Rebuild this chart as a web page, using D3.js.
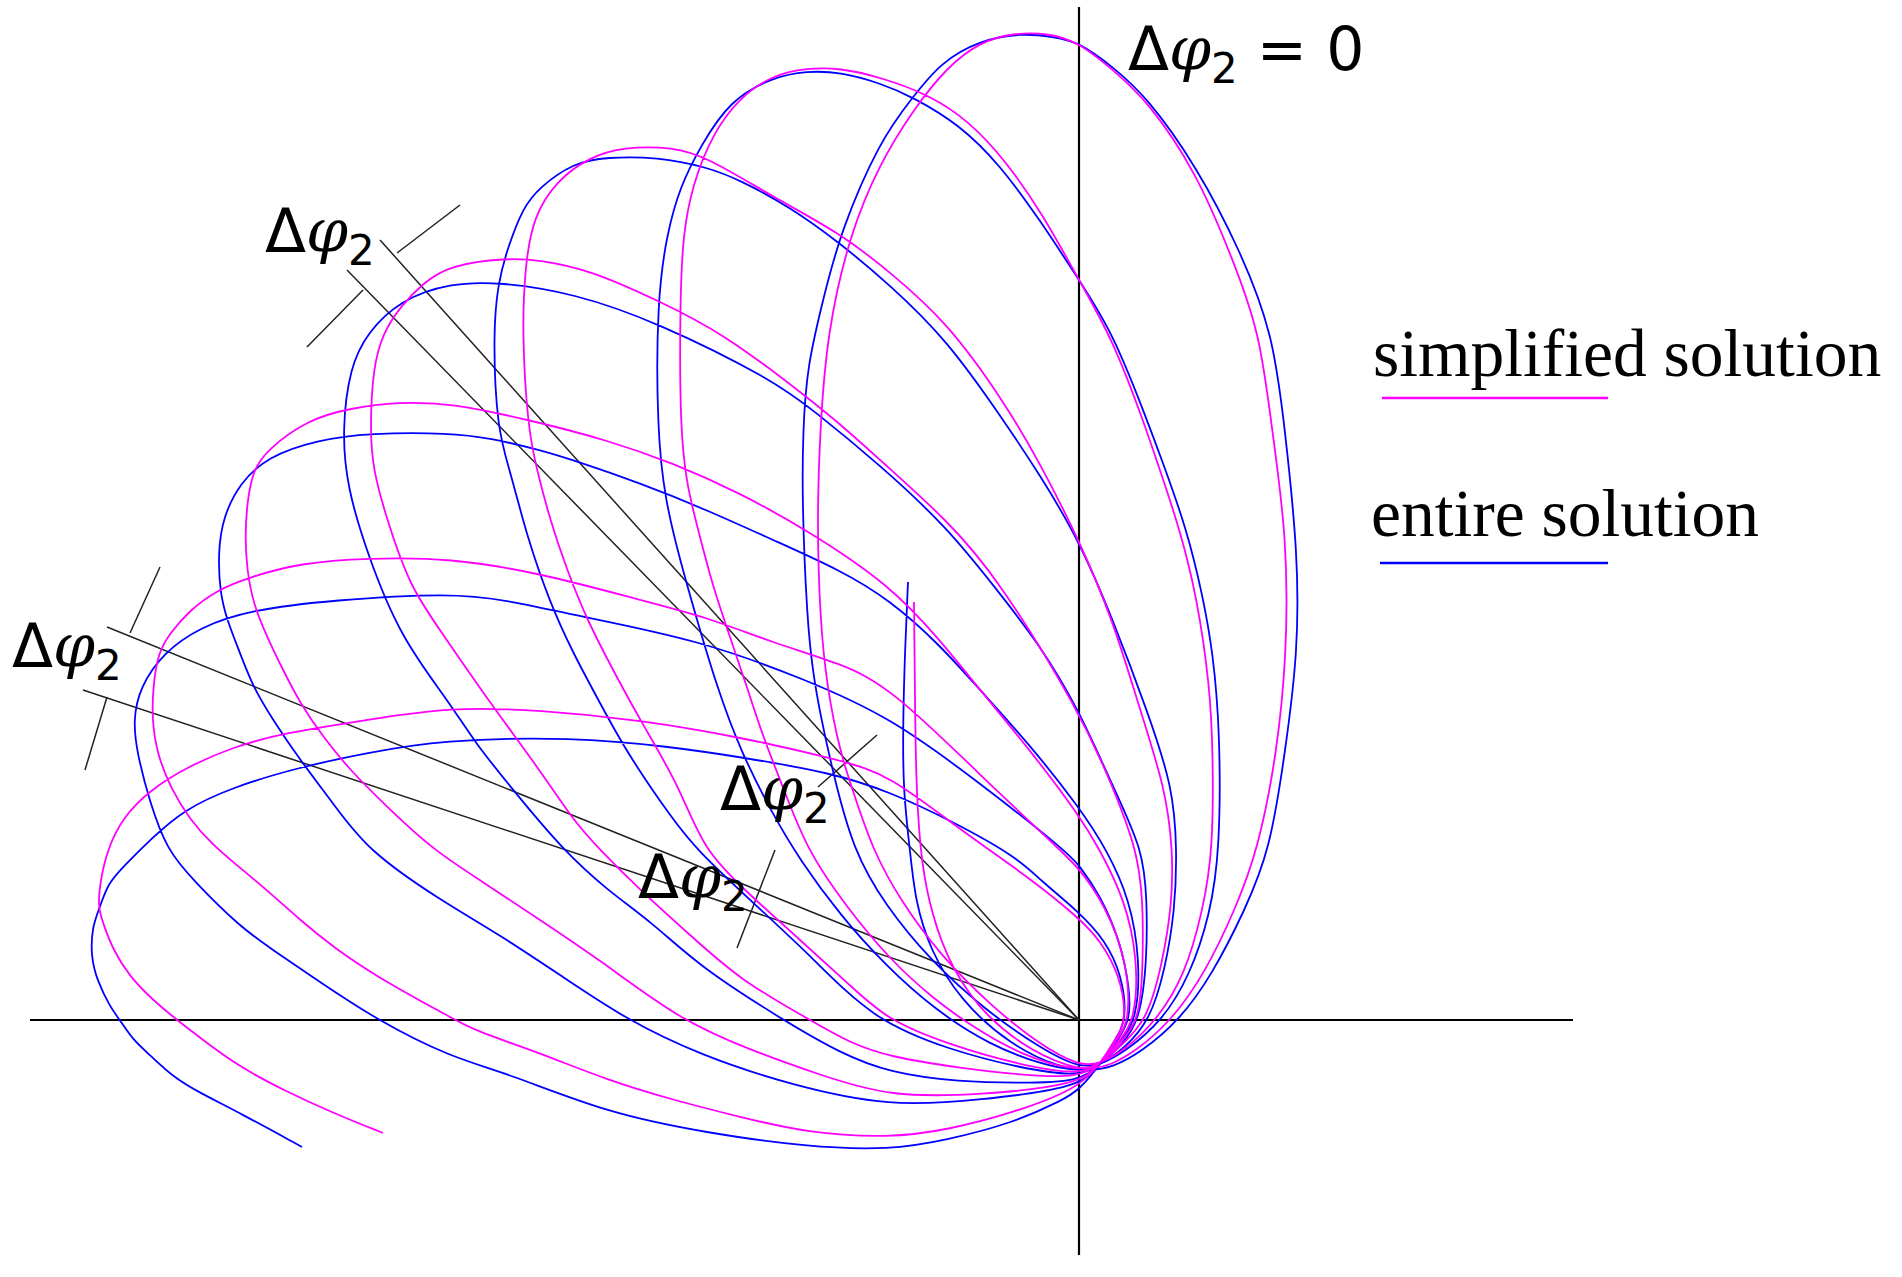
<!DOCTYPE html>
<html>
<head>
<meta charset="utf-8">
<script src="https://cdn.jsdelivr.net/npm/d3@7"></script>
<style>
  html, body { margin: 0; padding: 0; background: #fff; }
  svg { display: block; }
</style>
</head>
<body>
<svg id="chart" width="1902" height="1277"></svg>
<script>
// plot units: origin at the axis crossing, x to the right, y up

// entire solution (blue)
const blueTail = [[-171,438],[-174,370],[-176,300],[-176,230],[-169,170],[-164,120],[-149,70],[-119,20],[-69,-25],[-19,-48]];
const blueLobes = [
  [[11,-51],[34,-47],[61,-33],[101,0],[134,47],[166,110],[191,170],[206,267],[219,367],[219,467],[206,590],[194,687],[161,770],[118,853],[68,923],[34,953],[0,978],[-26,983],[-56,987],[-99,980],[-139,957],[-166,923],[-199,880],[-239,787],[-256,720],[-272,653],[-276,590],[-277,520],[-272,400],[-266,347],[-259,307],[-246,247],[-226,170],[-194,115],[-149,60],[-94,10],[-39,-28],[0,-48]],
  [[21,-45],[46,-32],[84,0],[111,45],[131,105],[141,170],[141,290],[134,367],[124,423],[108,490],[84,557],[68,600],[34,687],[0,740],[-39,800],[-79,855],[-119,895],[-166,923],[-199,937],[-239,948],[-272,949],[-306,943],[-349,920],[-379,873],[-399,833],[-412,787],[-422,720],[-422,590],[-414,520],[-399,460],[-382,400],[-362,333],[-339,270],[-306,205],[-279,160],[-239,105],[-194,55],[-144,10],[-89,-25],[-39,-44],[0,-52]],
  [[21,-45],[46,-28],[71,0],[86,50],[96,110],[98,170],[94,233],[68,310],[34,400],[0,480],[-39,545],[-79,605],[-132,680],[-189,735],[-239,777],[-289,813],[-339,840],[-372,853],[-422,863],[-472,863],[-506,857],[-539,833],[-556,813],[-572,770],[-581,737],[-586,687],[-582,590],[-569,550],[-552,483],[-529,417],[-506,367],[-479,317],[-452,267],[-406,200],[-382,170],[-329,120],[-269,65],[-206,0],[-129,-30],[-59,-48],[0,-57]],
  [[21,-45],[43,-25],[61,0],[68,60],[68,120],[64,170],[34,233],[0,310],[-39,375],[-82,430],[-132,493],[-199,555],[-266,610],[-306,640],[-422,698],[-506,727],[-579,738],[-629,737],[-679,720],[-712,687],[-729,653],[-737,590],[-732,533],[-712,467],[-679,383],[-629,317],[-606,280],[-566,230],[-516,170],[-472,130],[-426,97],[-379,53],[-296,0],[-239,-33],[-189,-53],[-119,-62],[-59,-63],[0,-62]],
  [[21,-45],[41,-22],[58,0],[61,60],[51,120],[28,170],[0,213],[-49,275],[-99,330],[-139,375],[-189,420],[-239,450],[-306,480],[-372,510],[-439,537],[-506,560],[-539,570],[-589,582],[-629,587],[-709,587],[-762,580],[-812,563],[-839,537],[-856,503],[-861,467],[-859,427],[-852,400],[-839,367],[-826,333],[-806,300],[-779,260],[-746,217],[-712,170],[-639,120],[-579,85],[-519,45],[-452,0],[-379,-35],[-289,-65],[-189,-87],[-99,-80],[0,-68]],
  [[21,-45],[39,-20],[51,0],[51,30],[41,80],[21,125],[0,155],[-12,168],[-99,237],[-189,303],[-272,340],[-379,380],[-506,405],[-572,420],[-629,427],[-746,420],[-829,410],[-879,393],[-916,367],[-939,333],[-946,300],[-942,267],[-929,217],[-912,170],[-886,140],[-839,93],[-806,70],[-762,40],[-702,0],[-629,-37],[-572,-53],[-472,-93],[-372,-113],[-272,-127],[-189,-130],[-132,-120],[-66,-103],[-16,-80],[0,-70]],
  [[21,-45],[36,-20],[48,0],[43,45],[26,80],[0,108],[-39,140],[-62,163],[-129,200],[-189,228],[-246,247],[-339,263],[-406,273],[-506,283],[-639,280],[-712,267],[-779,253],[-846,233],[-896,210],[-929,180],[-954,155],[-971,137],[-979,113],[-987,93],[-988,63],[-982,40],[-969,13],[-959,0],[-946,-20],[-929,-35],[-906,-57],[-879,-73],[-839,-93],[-777,-127]]
];

// simplified solution (magenta)
const magentaTail = [[-165,418],[-164,320],[-163,240],[-159,170],[-151,120],[-134,65],[-104,15],[-59,-25],[-9,-48]];
const magentaLobes = [
  [[16,-49],[31,-45],[56,-32],[93,0],[126,47],[156,110],[179,170],[198,267],[208,367],[208,483],[193,590],[181,687],[154,760],[118,847],[68,920],[34,950],[0,978],[-32,987],[-66,987],[-99,978],[-132,953],[-166,910],[-199,857],[-229,787],[-252,687],[-259,590],[-262,500],[-259,400],[-252,333],[-239,267],[-222,217],[-206,170],[-179,120],[-139,65],[-89,15],[-39,-25],[0,-46]],
  [[21,-44],[46,-30],[78,0],[106,45],[124,110],[134,170],[134,267],[131,333],[118,423],[101,490],[81,550],[64,600],[34,680],[0,740],[-37,807],[-74,860],[-109,898],[-149,925],[-199,943],[-239,952],[-272,952],[-306,945],[-339,923],[-366,887],[-386,837],[-396,787],[-399,720],[-399,590],[-392,533],[-379,483],[-366,433],[-349,383],[-332,333],[-316,283],[-296,233],[-272,170],[-234,115],[-189,60],[-144,20],[-109,-5],[-59,-35],[0,-52]],
  [[21,-44],[43,-25],[68,0],[83,55],[93,115],[94,170],[86,233],[61,310],[34,400],[0,480],[-39,557],[-76,620],[-132,698],[-189,748],[-239,787],[-306,823],[-372,863],[-406,873],[-456,873],[-489,863],[-522,840],[-546,803],[-554,753],[-557,687],[-551,590],[-542,550],[-529,500],[-512,450],[-492,400],[-466,350],[-439,300],[-399,233],[-376,170],[-329,125],[-279,80],[-229,35],[-192,0],[-129,-25],[-59,-45],[0,-55]],
  [[21,-44],[41,-23],[61,0],[64,60],[64,120],[58,170],[34,233],[0,310],[-82,443],[-132,500],[-199,560],[-232,590],[-272,623],[-356,687],[-422,720],[-489,750],[-539,760],[-572,762],[-629,755],[-656,737],[-679,713],[-696,687],[-706,653],[-709,590],[-706,550],[-692,500],[-669,433],[-639,390],[-589,317],[-539,250],[-506,200],[-479,170],[-439,130],[-389,85],[-339,40],[-269,0],[-229,-23],[-189,-37],[-119,-48],[-59,-55],[0,-58]],
  [[21,-44],[41,-20],[56,0],[59,60],[46,120],[21,170],[0,205],[-49,270],[-99,330],[-139,380],[-189,435],[-272,490],[-339,527],[-406,557],[-472,580],[-549,600],[-629,617],[-679,618],[-729,612],[-772,600],[-812,570],[-826,550],[-832,517],[-834,483],[-832,450],[-826,417],[-812,383],[-796,350],[-779,317],[-756,283],[-729,250],[-696,217],[-646,170],[-599,140],[-539,100],[-479,60],[-399,0],[-329,-30],[-259,-55],[-189,-77],[-99,-75],[0,-65]],
  [[21,-44],[39,-18],[51,0],[48,60],[26,115],[0,152],[-19,170],[-99,245],[-189,333],[-239,357],[-306,377],[-372,403],[-439,420],[-539,447],[-629,462],[-712,462],[-779,457],[-829,443],[-862,430],[-889,410],[-909,387],[-921,367],[-926,333],[-927,300],[-922,267],[-909,233],[-889,200],[-866,175],[-846,158],[-812,130],[-779,100],[-746,73],[-702,43],[-629,3],[-606,-10],[-539,-33],[-472,-60],[-406,-80],[-339,-97],[-272,-113],[-189,-118],[-132,-110],[-66,-93],[0,-68]],
  [[21,-44],[36,-20],[48,0],[41,45],[21,80],[0,102],[-49,142],[-119,190],[-189,245],[-239,260],[-339,283],[-439,300],[-539,310],[-629,313],[-712,300],[-796,287],[-846,273],[-892,253],[-929,230],[-956,203],[-972,170],[-979,137],[-981,113],[-976,97],[-966,70],[-949,43],[-926,20],[-906,3],[-872,-23],[-839,-47],[-796,-70],[-746,-93],[-696,-113]]
];

// rays from the origin marking the lobe axes, and the small dimension ticks
const rayEnds = [[-699,780],[-732,750],[-972,393],[-996,330]];
const ticks = [
  [[-682,767],[-619,815]],
  [[-716,730],[-772,673]],
  [[-949,387],[-919,453]],
  [[-972,323],[-994,250]],
  [[-261,233],[-202,285]],
  [[-304,170],[-342,72]]
];
const xAxisExtent = [-1049, 494];
const yAxisExtent = [-235, 1013];

const svg = d3.select('#chart');
const width = +svg.attr('width');
const height = +svg.attr('height');

const x = d3.scaleLinear().domain([-1079, 823]).range([0, width]);
const y = d3.scaleLinear().domain([1020, -257]).range([0, height]);

svg.append('rect').attr('width', width).attr('height', height).attr('fill', '#fff');

// axes
svg.append('line')
  .attr('x1', x(xAxisExtent[0])).attr('x2', x(xAxisExtent[1]))
  .attr('y1', y(0)).attr('y2', y(0))
  .attr('stroke', '#000').attr('stroke-width', 2.2);
svg.append('line')
  .attr('x1', x(0)).attr('x2', x(0))
  .attr('y1', y(yAxisExtent[0])).attr('y2', y(yAxisExtent[1]))
  .attr('stroke', '#000').attr('stroke-width', 2.2);

// black rays + ticks
svg.append('g').selectAll('line.ray')
  .data(rayEnds)
  .enter().append('line')
  .attr('class', 'ray')
  .attr('x1', x(0)).attr('y1', y(0))
  .attr('x2', d => x(d[0])).attr('y2', d => y(d[1]))
  .attr('stroke', '#222').attr('stroke-width', 1.5);

svg.append('g').selectAll('line.tick')
  .data(ticks)
  .enter().append('line')
  .attr('class', 'tick')
  .attr('x1', d => x(d[0][0])).attr('y1', d => y(d[0][1]))
  .attr('x2', d => x(d[1][0])).attr('y2', d => y(d[1][1]))
  .attr('stroke', '#222').attr('stroke-width', 1.5);

const line = d3.line()
  .x(d => x(d[0]))
  .y(d => y(d[1]))
  .curve(d3.curveBasis);

const bluePath = blueTail.concat(...blueLobes);
const magentaPath = magentaTail.concat(...magentaLobes);

svg.append('path')
  .datum(bluePath)
  .attr('d', line)
  .attr('fill', 'none')
  .attr('stroke', '#0000ff')
  .attr('stroke-width', 1.8);

svg.append('path')
  .datum(magentaPath)
  .attr('d', line)
  .attr('fill', 'none')
  .attr('stroke', '#ff00ff')
  .attr('stroke-width', 1.8);

// Δφ2 labels
const addLabel = (px, py, tail) => {
  const t = svg.append('text')
    .attr('x', px).attr('y', py)
    .attr('font-size', 60)
    .attr('fill', '#000');
  t.append('tspan').attr('font-family', 'DejaVu Sans').text('Δ');
  t.append('tspan').attr('font-family', 'DejaVu Serif').attr('font-style', 'italic').text('φ');
  t.append('tspan').attr('font-family', 'DejaVu Sans').attr('font-size', 42).attr('dy', 13).text('2');
  if (tail) {
    t.append('tspan').attr('font-family', 'DejaVu Sans').attr('dy', -13).text(tail);
  }
};
addLabel(1128, 70, ' = 0');
addLabel(265, 252);
addLabel(12, 667);
addLabel(720, 810);
addLabel(638, 898);

// legend
svg.append('text')
  .attr('x', 1373).attr('y', 376)
  .attr('font-family', 'Liberation Serif, Times New Roman, serif')
  .attr('font-size', 67.5)
  .text('simplified solution');
svg.append('line')
  .attr('x1', 1382).attr('x2', 1608).attr('y1', 398).attr('y2', 398)
  .attr('stroke', '#ff00ff').attr('stroke-width', 2.3);
svg.append('text')
  .attr('x', 1371).attr('y', 536)
  .attr('font-family', 'Liberation Serif, Times New Roman, serif')
  .attr('font-size', 67.5)
  .text('entire solution');
svg.append('line')
  .attr('x1', 1380).attr('x2', 1608).attr('y1', 563).attr('y2', 563)
  .attr('stroke', '#0000ff').attr('stroke-width', 2.3);
</script>
</body>
</html>
